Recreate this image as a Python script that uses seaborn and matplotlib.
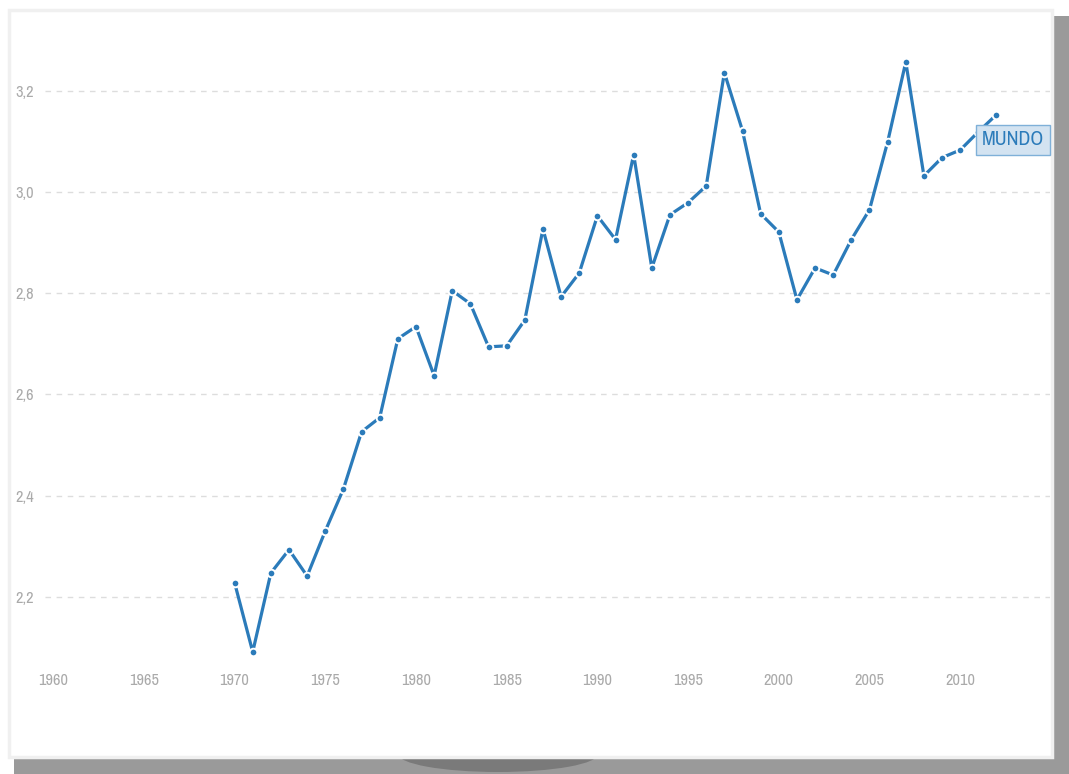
#!/usr/bin/env python
"""Mundo: serie anual 1970-2012 en tarjeta con sombra."""

import matplotlib
matplotlib.use('Agg')
import matplotlib.pyplot as plt
from matplotlib import font_manager
from matplotlib.patches import Rectangle, Ellipse
from matplotlib.ticker import FuncFormatter
import seaborn as sns
import pandas as pd

years = list(range(1970, 2013))
values = [2.228, 2.091, 2.247, 2.293, 2.241, 2.330, 2.413, 2.526, 2.554, 2.710,
          2.734, 2.637, 2.805, 2.779, 2.694, 2.696, 2.747, 2.927, 2.793, 2.840,
          2.953, 2.906, 3.074, 2.850, 2.955, 2.979, 3.012, 3.236, 3.121, 2.957,
          2.921, 2.787, 2.850, 2.836, 2.906, 2.965, 3.099, 3.257, 3.032, 3.068,
          3.083, 3.119, 3.153]
series_label = 'MUNDO'
x_ticks = list(range(1960, 2015, 5))
y_ticks = [2.2, 2.4, 2.6, 2.8, 3.0, 3.2]

df = pd.DataFrame({'year': years, 'value': values})

sns.set_style('white')
plt.rcParams['font.family'] = ['Open Sans', 'DejaVu Sans']

# narrow face for the texts, if one is installed
names = sorted({f.name for f in font_manager.fontManager.ttflist})
if 'Liberation Sans Narrow' in names:
    narrow = 'Liberation Sans Narrow'
else:
    cands = [n for n in names if 'Narrow' in n or 'Condensed' in n]
    narrow = cands[0] if cands else None
text_family = [narrow, 'Open Sans'] if narrow else ['Open Sans']
tick_size = 11.8 if narrow else 9
label_size = 14.5 if narrow else 11

W, H = 1069, 774
fig = plt.figure(figsize=(W / 100, H / 100), dpi=100)
fig.patch.set_facecolor('white')

# card shadow + card
fig.add_artist(Rectangle((14 / W, 0), (W - 14) / W, (H - 16) / H,
                         transform=fig.transFigure, facecolor='#9a9a9a',
                         edgecolor='none', zorder=0))
fig.add_artist(Ellipse((498 / W, (H - 754) / H), 200 / W, 36 / H,
                       transform=fig.transFigure, facecolor='#7a7a7a',
                       edgecolor='none', zorder=0.5))
fig.add_artist(Rectangle((9 / W, (H - 757) / H), (1052 - 9) / W, (757 - 10) / H,
                         transform=fig.transFigure, facecolor='white',
                         edgecolor='#f0f0f0', linewidth=2.5, zorder=1))

ax = fig.add_axes([45 / W, (H - 658) / H, (1050 - 45) / W, (658 - 20) / H])
ax.set_facecolor('none')
ax.set_zorder(2)

for yv in y_ticks:
    ax.axhline(yv, color='#dddddd', linewidth=1, linestyle=(0, (4, 4)), zorder=1)

sns.lineplot(data=df, x='year', y='value', ax=ax, color='#2b7bba',
             linewidth=2.3, marker='o', markersize=5.5,
             markeredgecolor='white', markeredgewidth=1.4, zorder=3)

ax.set_xlim(1959.55, 2014.95)
ax.set_ylim(2.079, 3.340)
ax.set_xticks(x_ticks)
ax.set_yticks(y_ticks)
ax.yaxis.set_major_formatter(FuncFormatter(lambda v, p: f'{v:.1f}'.replace('.', ',')))
ax.tick_params(axis='x', length=4, width=0.8, color='#cccccc', pad=7,
               labelsize=tick_size, labelcolor='#aaaaaa')
ax.tick_params(axis='y', length=0, pad=8, labelsize=tick_size, labelcolor='#aaaaaa')
plt.setp(ax.get_xticklabels() + ax.get_yticklabels(), fontfamily=text_family)
for s in ax.spines.values():
    s.set_visible(False)
ax.set_xlabel('')
ax.set_ylabel('')

ax.annotate(series_label, xy=(years[-2], 3.103), xytext=(2.5, 0),
            textcoords='offset points', ha='left', va='center',
            fontsize=label_size, color='#2b7bba', zorder=4, family=text_family,
            bbox=dict(boxstyle='square,pad=0.28', facecolor='#d3e3f1',
                      edgecolor='#7fb0d8', linewidth=1))

fig.savefig('out.png', dpi=100, facecolor='white')
